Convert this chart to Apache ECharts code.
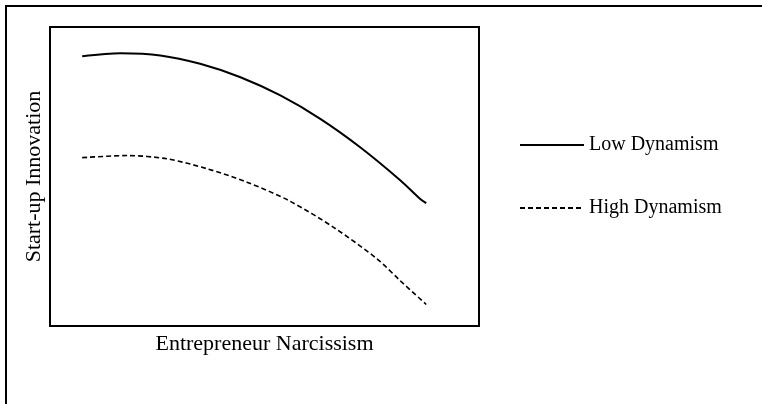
<!DOCTYPE html>
<html>
<head>
<meta charset="utf-8">
<script src="https://cdn.jsdelivr.net/npm/echarts@6/dist/echarts.min.js"></script>
<style>
  html, body { margin: 0; padding: 0; background: #fff; }
  #chart { width: 762px; height: 404px; }
</style>
</head>
<body>
<div id="chart"></div>
<script>
// values, on a 0-100 scale for both axes
const lowX = [7.5, 16.4, 25.7, 35.0, 44.4, 53.7, 63.0, 72.3, 81.7, 86.3, 87.7];
const lowY = [90.2, 91.2, 90.5, 87.7, 83.2, 77.1, 69.3, 59.8, 48.7, 42.5, 41.1];
const highX = [7.5, 18.0, 27.3, 36.6, 45.9, 55.6, 66.1, 76.2, 81.6, 87.7];
const highY = [56.3, 57.0, 55.9, 52.6, 48.1, 42.0, 33.0, 22.5, 15.2, 7.2];
const seriesNames = ["Low Dynamism", "High Dynamism"];

const serif = "Liberation Serif";

function pairs(xs, ys) {
  return xs.map((x, i) => [x, ys[i]]);
}

const chart = echarts.init(document.getElementById("chart"), null, { renderer: "canvas" });

chart.setOption({
  animation: false,
  backgroundColor: "#fff",
  graphic: [
    {
      type: "rect",
      shape: { x: 6, y: 6, width: 800, height: 450 },
      style: { fill: null, stroke: "#000", lineWidth: 2 },
      silent: true,
    },
  ],
  grid: {
    left: 50,
    top: 27,
    width: 429,
    height: 299,
    show: true,
    borderColor: "#000",
    borderWidth: 2,
    backgroundColor: "transparent",
  },
  xAxis: {
    type: "value",
    min: 0,
    max: 100,
    name: "Entrepreneur Narcissism",
    nameLocation: "middle",
    nameGap: 7,
    nameTextStyle: { fontFamily: serif, fontSize: 22, color: "#000", verticalAlign: "top" },
    axisLine: { show: false },
    axisTick: { show: false },
    axisLabel: { show: false },
    splitLine: { show: false },
  },
  yAxis: {
    type: "value",
    min: 0,
    max: 100,
    name: "Start-up Innovation",
    nameLocation: "middle",
    nameGap: 5,
    nameTextStyle: { fontFamily: serif, fontSize: 22, color: "#000", verticalAlign: "bottom" },
    axisLine: { show: false },
    axisTick: { show: false },
    axisLabel: { show: false },
    splitLine: { show: false },
  },
  legend: {
    orient: "vertical",
    left: 514,
    top: 130,
    itemWidth: 64,
    itemHeight: 22,
    itemGap: 43,
    // hide the marker dot, keep only the line sample
    itemStyle: { opacity: 0 },
    textStyle: { fontFamily: serif, fontSize: 20, color: "#000" },
    data: seriesNames,
  },
  series: [
    {
      name: seriesNames[0],
      type: "line",
      data: pairs(lowX, lowY),
      smooth: 0.3,
      symbol: "none",
      lineStyle: { color: "#000", width: 2, type: "solid" },
      itemStyle: { color: "#000" },
    },
    {
      name: seriesNames[1],
      type: "line",
      data: pairs(highX, highY),
      smooth: 0.3,
      symbol: "none",
      lineStyle: { color: "#000", width: 1.6, type: [5, 3] },
      itemStyle: { color: "#000" },
    },
  ],
});
</script>
</body>
</html>
